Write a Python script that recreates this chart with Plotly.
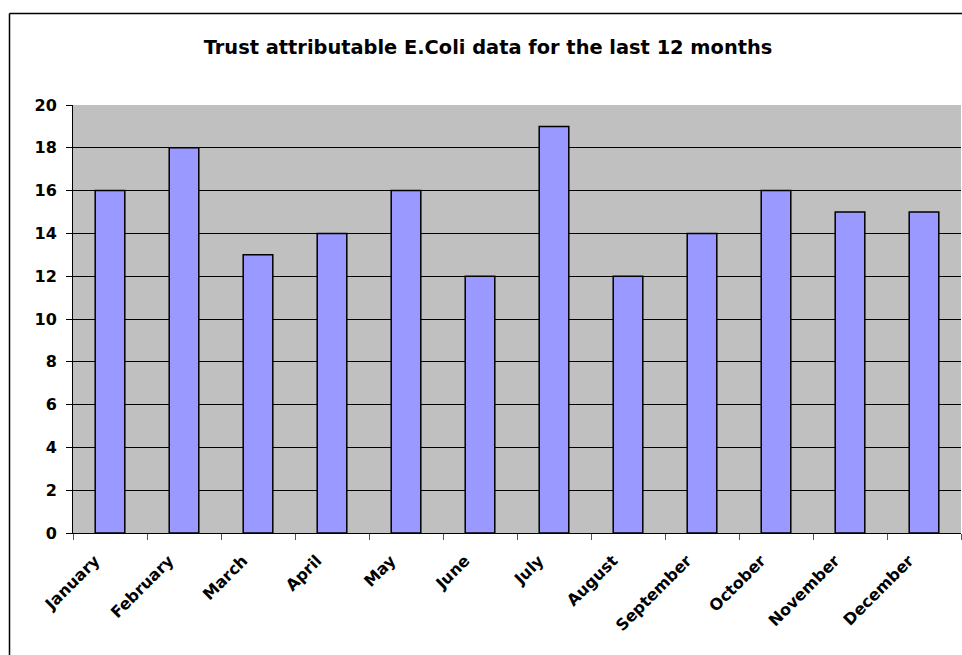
import plotly.graph_objects as go

# Monthly counts of trust-attributable E.Coli cases
months = ["January", "February", "March", "April", "May", "June",
          "July", "August", "September", "October", "November", "December"]
cases = [16, 18, 13, 14, 16, 12, 19, 12, 14, 16, 15, 15]
y_ticks = [0, 2, 4, 6, 8, 10, 12, 14, 16, 18, 20]

W, H = 962, 655
L, R, T, B = 73, 1, 105, 122
PW, PH = W - L - R, H - T - B

fig = go.Figure(
    go.Bar(
        x=months,
        y=cases,
        width=0.4,
        marker=dict(color="#9999FF", line=dict(color="#000000", width=1.5)),
        hoverinfo="x+y",
    )
)

font_main = "DejaVu Sans, Verdana, sans-serif"

fig.update_layout(
    width=W,
    height=H,
    autosize=False,
    margin=dict(l=L, r=R, t=T, b=B, pad=0),
    paper_bgcolor="#FFFFFF",
    plot_bgcolor="#C0C0C0",
    showlegend=False,
    title=dict(
        text="<b>Trust attributable E.Coli data for the last 12 months</b>",
        x=488 / W,
        xanchor="center",
        y=1 - 47 / H,
        yanchor="middle",
        font=dict(family=font_main, size=19.4, color="#000000"),
    ),
    bargap=0.6,
)

fig.update_xaxes(
    type="category",
    showgrid=False,
    showline=True,
    linecolor="#000000",
    linewidth=1,
    ticks="outside",
    tickson="boundaries",
    ticklen=6,
    tickcolor="#555555",
    tickangle=-45,
    ticklabelshift=-15,
    ticklabelstandoff=11,
    tickfont=dict(family=font_main, size=16, color="#000000", weight="bold"),
)

fig.update_yaxes(
    range=[0, 20],
    tickvals=y_ticks,
    showgrid=True,
    gridcolor="#000000",
    gridwidth=1,
    showline=True,
    linecolor="#000000",
    linewidth=1,
    ticks="outside",
    ticklen=6,
    tickcolor="#000000",
    zeroline=False,
    ticklabelstandoff=6,
    tickfont=dict(family=font_main, size=16, color="#000000", weight="bold"),
)

# Chart frame: left and top edges of the outer border, kept inside the page
frame_x = (9.5 - L) / PW
frame_y = 1 + (T - 13.5) / PH
fig.add_shape(type="line", xref="paper", yref="paper",
              x0=frame_x, x1=frame_x, y0=-B / PH, y1=frame_y,
              line=dict(color="#000000", width=1.5))
fig.add_shape(type="line", xref="paper", yref="paper",
              x0=frame_x, x1=(W - L) / PW, y0=frame_y, y1=frame_y,
              line=dict(color="#000000", width=1.5))

fig.write_html("out.html")
